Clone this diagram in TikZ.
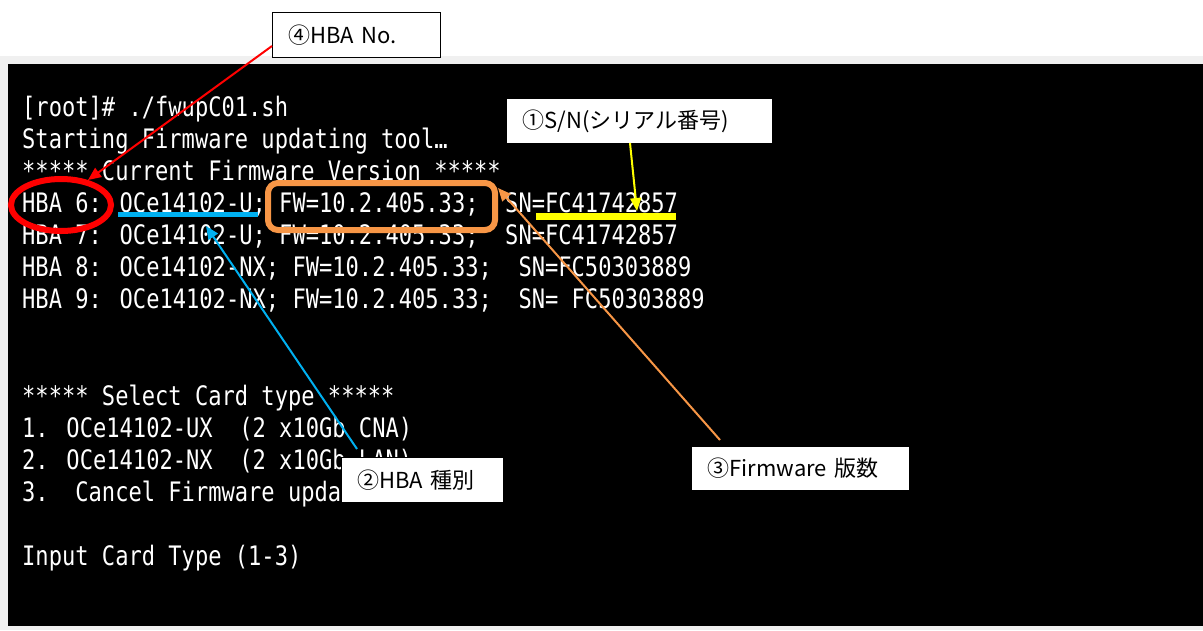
\documentclass[tikz,border=0pt]{standalone}
\usepackage{fontspec}
\newfontfamily\termfont[FakeStretch=0.824]{DejaVu Sans Mono}
\newfontfamily\jpfont{Noto Sans CJK JP}
\usetikzlibrary{arrows.meta}
\definecolor{bandgray}{HTML}{F0F0F0}
\definecolor{hlorange}{HTML}{F79646}
\definecolor{hlblue}{HTML}{00B0F0}
\definecolor{hlred}{HTML}{FF0000}
\definecolor{hlyellow}{HTML}{FFFF00}
\begin{document}
\begin{tikzpicture}[x=1pt,y=-1pt,
  term/.style={anchor=base west, inner sep=0pt, text=white, font=\termfont\fontsize{26.8}{32}\selectfont},
  lbl/.style={draw=black, line width=1pt, fill=white, anchor=north west, inner xsep=16pt, inner ysep=0pt,
    font=\jpfont\fontsize{22}{26}\selectfont, align=left},
  ptr/.style={line width=2pt, -{Triangle[length=13pt,width=11pt]}}]
\useasboundingbox (0,0) rectangle (1203,630);
\fill[bandgray] (0,56) rectangle (1203,630);
\fill[black] (8,64) rectangle (1203,626);

\node[term] (l1) at (22,116) {[root]\# ./fwupC01.sh};
\node[term] (l2) at (22,148) {Starting Firmware updating tool…};
\node[term] (l3) at (22,180) {***** Current Firmware Version *****};
\node[term] (l4) at (22,212) {HBA 6: OCe14102-U; FW=10.2.405.33;\ \ SN=FC41742857};
\node[term] (l5) at (22,244) {HBA 7: OCe14102-U; FW=10.2.405.33;\ \ SN=FC41742857};
\node[term] (l6) at (22,276) {HBA 8: OCe14102-NX; FW=10.2.405.33;\ \ SN=FC50303889};
\node[term] (l7) at (22,308) {HBA 9: OCe14102-NX; FW=10.2.405.33;\ \ SN= FC50303889};
\node[term] (l8) at (22,405) {***** Select Card type *****};
\node[term] (l9) at (22,437) {1. OCe14102-UX\ \ (2 x10Gb CNA)};
\node[term] (l10) at (22,469) {2. OCe14102-NX\ \ (2 x10Gb LAN)};
\node[term] (l11) at (22,501) {3.\ \ Cancel Firmware upda};
\node[term] (l12) at (22,565) {Input Card Type (1-3)};

% highlights
\draw[hlred, line width=6pt] (61,205) ellipse [x radius=50, y radius=26];
\draw[hlblue, line width=5pt] (118,214.5) -- (258,214.5);
\draw[hlyellow, line width=7pt] (536,216) -- (676,216);
\draw[hlorange, line width=6pt, rounded corners=10pt] (268,183) rectangle (495,230);

% labels
\node[lbl, minimum width=168pt, minimum height=45pt, text width=136pt] (b4) at (272,12) {④HBA No.};
\node[lbl, minimum width=266pt, minimum height=45pt, text width=234pt] (b1) at (506,98) {①S/N(シリアル番号)};
\node[lbl, minimum width=162pt, minimum height=45pt, text width=130pt] (b2) at (341,457) {②HBA 種別};
\node[lbl, minimum width=218pt, minimum height=44pt, text width=186pt] (b3) at (691,446) {③Firmware 版数};

% pointers
\coordinate (r0) at (272,46);
\coordinate (r1) at (88,180);
\draw[ptr, hlred] (r0) -- (r1);
\coordinate (y0) at (630,143);
\coordinate (y1) at (637,211);
\draw[ptr, hlyellow] (y0) -- (y1);
\coordinate (c0) at (357,449);
\coordinate (c1) at (206,226);
\draw[ptr, hlblue] (c0) -- (c1);
\coordinate (o0) at (720,440);
\coordinate (o1) at (498,188);
\draw[ptr, hlorange] (o0) -- (o1);
\end{tikzpicture}
\end{document}
